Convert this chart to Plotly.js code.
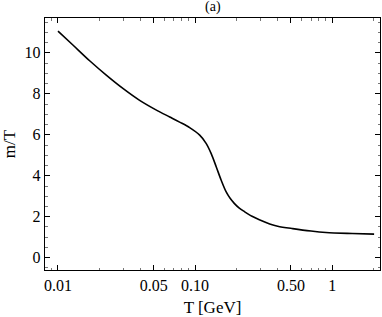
<!DOCTYPE html>
<html>
<head>
<meta charset="utf-8">
<script src="https://cdn.plot.ly/plotly-3.0.1.min.js"></script>
<style>html,body{margin:0;padding:0;background:#fff;}#plot{width:382px;height:317px;}</style>
</head>
<body>
<div id="plot"></div>
<script>
const temperatureGeV = [0.01, 0.0129, 0.0171, 0.0226, 0.0299, 0.0394, 0.053, 0.0653, 0.0771, 0.0912, 0.108, 0.1206, 0.131, 0.1427, 0.155, 0.1685, 0.18, 0.1937, 0.21, 0.23, 0.26, 0.294, 0.35, 0.40, 0.515, 0.7, 0.9, 1.4, 2.02];
const massOverT = [11.06, 10.37, 9.6, 8.9, 8.25, 7.68, 7.18, 6.87, 6.62, 6.35, 5.98, 5.57, 5.08, 4.43, 3.78, 3.21, 2.9, 2.64, 2.42, 2.24, 2.02, 1.85, 1.65, 1.54, 1.42, 1.3, 1.23, 1.18, 1.15];
const xTickVals = [0.01, 0.05, 0.1, 0.5, 1];
const xTickText = ["0.01", "0.05", "0.10", "0.50", "1"];
const xMinorVals = [0.009, 0.02, 0.03, 0.04, 0.06, 0.07, 0.08, 0.09, 0.2, 0.3, 0.4, 0.6, 0.7, 0.8, 0.9, 2];
const yTickVals = [0, 2, 4, 6, 8, 10];

const font = "Liberation Serif, Times New Roman, serif";
const trace = {
  x: temperatureGeV, y: massOverT, type: 'scatter', mode: 'lines',
  line: {color: '#000', width: 1.6, shape: 'spline', smoothing: 0.9},
  hoverinfo: 'skip'
};
const layout = {
  width: 382, height: 317,
  margin: {l: 45, r: 2, t: 18, b: 47},
  paper_bgcolor: '#fff', plot_bgcolor: '#fff',
  showlegend: false,
  title: {text: '(a)', font: {family: font, size: 14, color: '#000'}, x: 0.557, xanchor: 'center', y: 0.995, yanchor: 'top'},
  xaxis: {
    type: 'log', range: [Math.log10(0.00804), Math.log10(2.23)],
    tickmode: 'array', tickvals: xTickVals, ticktext: xTickText,
    ticks: 'inside', ticklen: 5, tickwidth: 1, tickcolor: '#000',
    minor: {tickmode: 'array', tickvals: xMinorVals, ticks: 'inside', ticklen: 2.5, tickwidth: 0.8, tickcolor: '#555'},
    showline: true, linecolor: '#000', linewidth: 1.3, mirror: 'ticks',
    showgrid: false, zeroline: false,
    tickfont: {family: font, size: 16, color: '#000'},
    title: {text: 'T [GeV]', font: {family: font, size: 17, color: '#000'}, standoff: 14}
  },
  yaxis: {
    range: [-0.6, 11.7],
    tickmode: 'array', tickvals: yTickVals,
    ticks: 'inside', ticklen: 5, tickwidth: 1, tickcolor: '#000',
    minor: {tickmode: 'linear', tick0: 0, dtick: 0.5, ticks: 'inside', ticklen: 2.5, tickwidth: 0.8, tickcolor: '#555'},
    showline: true, linecolor: '#000', linewidth: 1.3, mirror: 'ticks',
    showgrid: false, zeroline: false,
    tickfont: {family: font, size: 16, color: '#000'},
    title: {text: 'm/T', font: {family: font, size: 17, color: '#000'}, standoff: 8}
  }
};
Plotly.newPlot('plot', [trace], layout, {staticPlot: true, displayModeBar: false});
</script>
</body>
</html>
